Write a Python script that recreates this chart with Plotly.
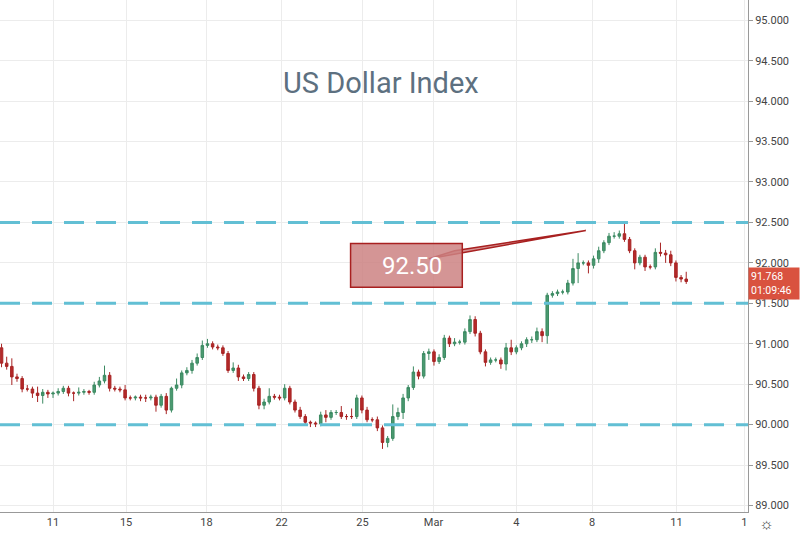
import plotly.graph_objects as go

closes = [90.76,90.72,90.59,90.57,90.44,90.44,90.39,90.36,90.40,90.38,
          90.39,90.41,90.45,90.39,90.39,90.40,90.41,90.40,90.49,90.54,
          90.61,90.45,90.44,90.43,90.33,90.33,90.34,90.33,90.33,90.34,
          90.24,90.35,90.18,90.45,90.49,90.64,90.67,90.76,90.83,90.98,
          91.00,90.96,90.95,90.88,90.67,90.70,90.59,90.57,90.62,90.45,
          90.24,90.28,90.35,90.34,90.33,90.45,90.28,90.18,90.10,90.03,
          90.02,90.01,90.12,90.09,90.15,90.15,90.10,90.10,90.10,90.33,
          90.18,90.06,90.06,89.96,89.78,89.83,90.10,90.15,90.33,90.46,
          90.65,90.60,90.88,90.90,90.78,90.83,91.07,91.00,91.02,91.02,
          91.15,91.30,91.13,90.90,90.77,90.80,90.80,90.75,90.95,90.90,
          90.95,91.00,91.05,91.05,91.15,91.10,91.60,91.62,91.64,91.64,
          91.75,91.93,92.00,92.00,91.97,92.05,92.15,92.25,92.33,92.33,
          92.36,92.29,92.15,92.00,92.07,91.95,91.95,92.13,92.12,92.10,
          92.00,91.82,91.80,91.77]
first_open = 90.95
upper_wick = [5,8,10,4,3,5,3,8,4,3, 2,4,3,3,2,6,3,2,4,5, 12,4,3,3,6,3,2,3,4,3,
              3,3,4,2,8,3,4,4,5,6, 6,3,3,3,3,7,4,3,3,3, 3,4,10,3,3,5,3,3,4,3,
              2,2,4,6,3,3,8,3,10,4, 3,4,3,4,3,3,15,6,5,3, 7,3,3,4,3,4,4,3,5,3,
              4,5,4,3,3,3,3,3,6,10, 3,3,3,4,5,4,3,3,3,3, 4,12,12,3,3,4,5,3,4,5,
              4,14,3,3,3,3,3,5,12,4, 5,3,3,9]
lower_wick = [5,4,10,4,4,3,6,8,10,5, 5,3,3,4,10,3,3,3,3,3, 3,4,3,3,3,3,3,4,5,3,
              8,3,5,3,3,4,3,4,3,3, 3,3,3,3,3,3,5,3,3,4, 5,5,3,3,3,3,3,3,3,4,
              5,4,3,6,3,3,3,4,3,3, 4,3,3,4,8,6,3,4,8,4, 3,4,3,8,5,3,3,4,3,3,
              3,3,4,3,5,3,3,6,8,4, 3,3,4,4,3,8,10,3,3,3, 3,3,18,3,10,4,5,3,3,3,
              3,3,3,8,3,5,3,3,4,10, 4,5,4,3]
tick_pos = [10.0, 24.2, 39.8, 54.4, 70.1, 83.9, 100.0, 114.7, 131.1, 144.3]
tick_text = ["11", "15", "18", "22", "25", "Mar", "4", "8", "11", "1"]
levels = [92.5, 91.5, 90.0]
last_price = "91.768"
countdown = "01:09:46"

opens = [first_open] + closes[:-1]
highs = [max(o, c) + u / 100 for o, c, u in zip(opens, closes, upper_wick)]
lows = [min(o, c) - l / 100 for o, c, l in zip(opens, closes, lower_wick)]
xs = list(range(len(closes)))

XMIN, XMAX = -0.3, 145.0

fig = go.Figure()
for lv in levels:
    fig.add_trace(go.Scatter(x=[XMIN, XMAX], y=[lv, lv], mode="lines",
                             line=dict(color="#62bfd4", width=3, dash="20px,12px"),
                             showlegend=False, hoverinfo="skip"))

fig.add_trace(go.Candlestick(
    x=xs, open=opens, high=highs, low=lows, close=closes,
    increasing=dict(line=dict(color="#3c8a62", width=1), fillcolor="#4a9a70"),
    decreasing=dict(line=dict(color="#a82424", width=1), fillcolor="#b52a2a"),
    whiskerwidth=0, showlegend=False, hoverinfo="skip"))

# callout
fig.add_shape(type="path",
              path="M 83,92.05 L 113.5,92.40 L 88,92.15 Z",
              fillcolor="rgba(200,110,110,0.75)", line=dict(color="#a82020", width=1.5))
fig.add_shape(type="rect", x0=67.8, x1=89.5, y0=91.70, y1=92.24,
              fillcolor="rgba(205,130,130,0.85)", line=dict(color="#a82020", width=1.5))
fig.add_annotation(x=73.5, xanchor="left", y=91.96, text="92.50", showarrow=False,
                   font=dict(size=24, color="white", family="Roboto"))

fig.add_annotation(xref="paper", yref="paper", x=381/748, y=1-64/512, text="US Dollar Index",
                   showarrow=False, font=dict(size=29, color="#5d7080", family="Roboto"))

# price label
fig.add_annotation(xref="paper", x=1.0, xanchor="left", y=float(last_price) - 0.02,
                   text=f"{last_price}<br>{countdown}", showarrow=False, align="left",
                   bgcolor="#d9523f", font=dict(size=10.5, color="white", family="Roboto"),
                   borderpad=2, width=46)

fig.add_annotation(xref="paper", yref="paper", x=776/748, y=-0.022, yanchor="middle", text="☼",
                   showarrow=False, font=dict(size=16, color="#444"))

fig.update_layout(
    width=800, height=534, margin=dict(l=0, r=52, t=0, b=22),
    paper_bgcolor="white", plot_bgcolor="white",
    font=dict(family="Roboto", color="#444", size=11),
    xaxis=dict(range=[XMIN, XMAX], tickvals=tick_pos, ticktext=tick_text,
               showgrid=True, gridcolor="#ececec", rangeslider=dict(visible=False),
               ticks="", zeroline=False, showline=True, linecolor="#999", fixedrange=True),
    yaxis=dict(side="right", range=[88.92, 95.25], dtick=0.5, tickformat=".3f",
               showgrid=True, gridcolor="#ececec", ticks="outside", ticklen=4,
               tickcolor="#999", showline=True, linecolor="#999", zeroline=False),
)
fig.write_html("out.html", config={"displayModeBar": False},
               post_script="document.body.style.margin='0';document.body.style.overflow='hidden';")
